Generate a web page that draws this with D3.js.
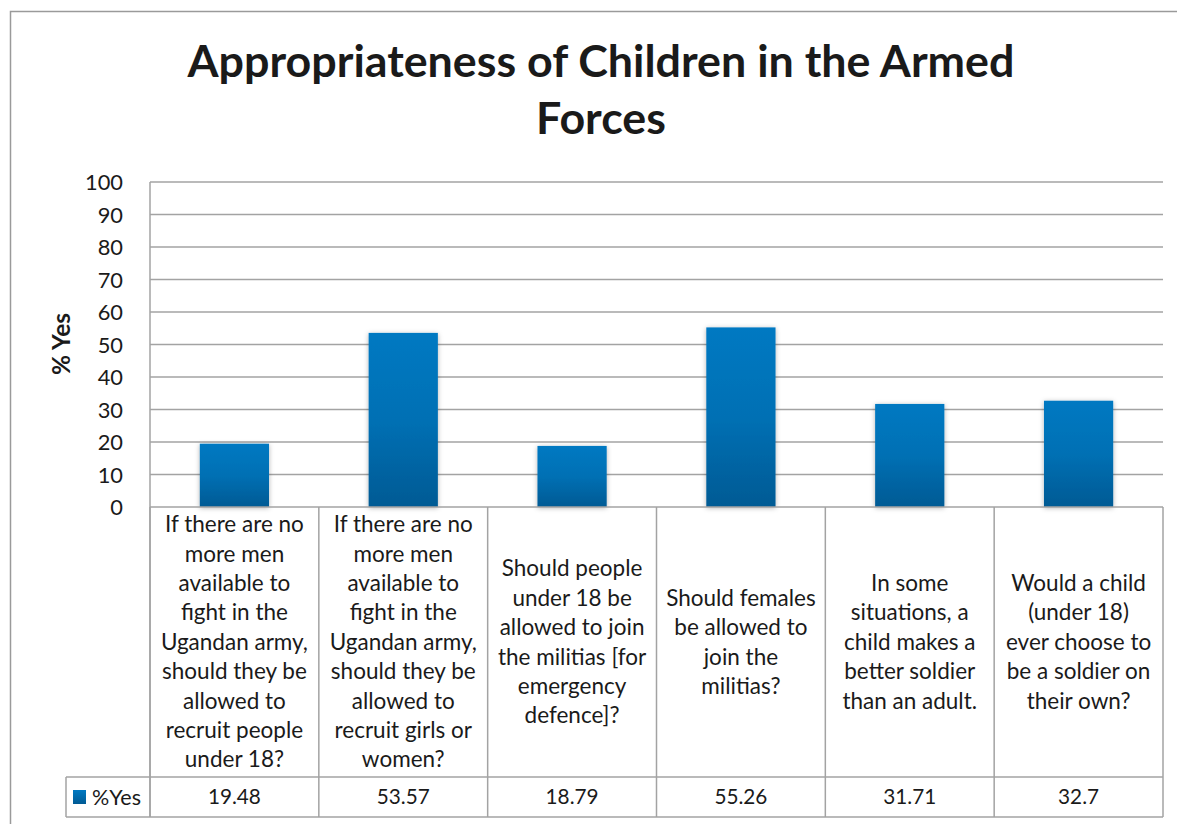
<!DOCTYPE html>
<html><head><meta charset="utf-8">
<script src="https://cdn.jsdelivr.net/npm/d3@7"></script>
<style>html,body{margin:0;padding:0;background:#fff;}svg{display:block;}</style>
</head><body>
<svg id="chart" width="1177" height="824"></svg>
<script>
const titleLines = ["Appropriateness of Children in the Armed", "Forces"];
const yAxisTitle = "% Yes";
const seriesName = "%Yes";
const categoryLines = [
  ["If there are no","more men","available to","fight in the","Ugandan army,","should they be","allowed to","recruit people","under 18?"],
  ["If there are no","more men","available to","fight in the","Ugandan army,","should they be","allowed to","recruit girls or","women?"],
  ["Should people","under 18 be","allowed to join","the militias [for","emergency","defence]?"],
  ["Should females","be allowed to","join the","militias?"],
  ["In some","situations, a","child makes a","better soldier","than an adult."],
  ["Would a child","(under 18)","ever choose to","be a soldier on","their own?"]
];
const values = [19.48, 53.57, 18.79, 55.26, 31.71, 32.7];
const valueLabels = ["19.48","53.57","18.79","55.26","31.71","32.7"];
const yTicks = [0,10,20,30,40,50,60,70,80,90,100];

const FONT = "Lato, 'Open Sans', sans-serif";
const svg = d3.select("#chart");
const L = 150, R = 1163, T = 182, B = 507;
const rowTop = 777, rowBot = 817, legendLeft = 66;
const gridCol = "#a3a3a3";

// outer frame
svg.append("rect").attr("x",10.5).attr("y",11.5).attr("width",1250).attr("height",900)
  .attr("fill","#fff").attr("stroke","#9a9a9a").attr("stroke-width",1.5);

const defs = svg.append("defs");
const grad = defs.append("linearGradient").attr("id","barGrad").attr("x1",0).attr("y1",0).attr("x2",0).attr("y2",1);
grad.append("stop").attr("offset","0%").attr("stop-color","#0079c2");
grad.append("stop").attr("offset","50%").attr("stop-color","#0070b4");
grad.append("stop").attr("offset","100%").attr("stop-color","#005a94");
const lg = defs.append("linearGradient").attr("id","legGrad").attr("x1",0).attr("y1",0).attr("x2",0).attr("y2",1);
lg.append("stop").attr("offset","0%").attr("stop-color","#0079c2");
lg.append("stop").attr("offset","100%").attr("stop-color","#005a94");
const f = defs.append("filter").attr("id","shadow").attr("x","-20%").attr("y","-20%").attr("width","140%").attr("height","140%");
f.append("feDropShadow").attr("dx",0).attr("dy",1).attr("stdDeviation",2.5).attr("flood-color","#000").attr("flood-opacity",0.3);

// size helper: font size so that `str` spans `target` px
function fitSize(str, target, weight){
  const tmp = svg.append("text").attr("font-family",FONT).attr("font-size",20)
    .attr("font-weight",weight||"normal").text(str);
  const w = tmp.node().getComputedTextLength();
  tmp.remove();
  return +(20*target/w).toFixed(2);
}

// title
const fsT = fitSize(titleLines[0], 827, "bold");
svg.selectAll(".title").data(titleLines).join("text").attr("class","title")
  .attr("x",601).attr("y",(d,i)=>77+i*57).attr("text-anchor","middle")
  .attr("font-family",FONT).attr("font-weight","bold").attr("font-size",fsT).attr("fill","#1a1a1a").text(d=>d);

// scales
const x = d3.scaleBand().domain(d3.range(values.length)).range([L,R]).padding(0);
const y = d3.scaleLinear().domain([0,100]).range([B,T]);

// gridlines
svg.append("g").selectAll("line").data(yTicks.filter(d=>d>0)).join("line")
  .attr("x1",L).attr("x2",R).attr("y1",d=>y(d)).attr("y2",d=>y(d))
  .attr("stroke",gridCol).attr("stroke-width",1.5);
svg.append("line").attr("x1",L).attr("x2",L).attr("y1",T).attr("y2",rowBot).attr("stroke",gridCol).attr("stroke-width",1.5);

// y axis labels
const fsTick = fitSize("100", 38);
const yAxis = d3.axisLeft(y).tickValues(yTicks).tickSize(0).tickPadding(0);
const ga = svg.append("g").attr("transform",`translate(123,0)`).call(yAxis);
ga.select(".domain").remove();
ga.selectAll("text").attr("font-family",FONT).attr("font-size",fsTick).attr("fill","#1a1a1a").attr("dy","0.36em");

const fsAx = fitSize(yAxisTitle, 62, "bold");
svg.append("text").attr("transform","translate(70,344) rotate(-90)").attr("text-anchor","middle")
  .attr("font-family",FONT).attr("font-weight","bold").attr("font-size",fsAx).attr("fill","#1a1a1a").text(yAxisTitle);

// bars
const bw = x.bandwidth()*0.41;
svg.append("g").selectAll("rect").data(values).join("rect")
  .attr("x",(d,i)=>x(i)+(x.bandwidth()-bw)/2).attr("width",bw)
  .attr("y",d=>y(d)).attr("height",d=>B-y(d))
  .attr("fill","url(#barGrad)").attr("filter","url(#shadow)");

// table lines
const tg = svg.append("g").attr("stroke",gridCol).attr("stroke-width",1.5);
tg.append("line").attr("x1",L).attr("x2",R).attr("y1",B).attr("y2",B);
tg.append("line").attr("x1",legendLeft).attr("x2",R).attr("y1",rowTop).attr("y2",rowTop);
tg.append("line").attr("x1",legendLeft).attr("x2",R).attr("y1",rowBot).attr("y2",rowBot);
tg.append("line").attr("x1",legendLeft).attr("x2",legendLeft).attr("y1",rowTop).attr("y2",rowBot);
tg.selectAll(".v").data(d3.range(values.length+1)).join("line").attr("class","v")
  .attr("x1",i=>i<values.length?x(i):R).attr("x2",i=>i<values.length?x(i):R)
  .attr("y1",B).attr("y2",rowBot);

// category labels
const fsCat = fitSize("Ugandan army,", 147);
const lineH = 29.4;
const cy = (B+rowTop)/2;
categoryLines.forEach((lines,i)=>{
  const cx = x(i)+x.bandwidth()/2;
  const start = cy - (lines.length-1)*lineH/2;
  const tx = svg.append("text").attr("text-anchor","middle").attr("font-family",FONT)
    .attr("font-size",fsCat).attr("fill","#1a1a1a");
  lines.forEach((ln,j)=>{
    tx.append("tspan").attr("x",cx).attr("y",start+j*lineH).attr("dy","0.35em").text(ln);
  });
});

// values row
const fsVal = fitSize("19.48", 53);
svg.append("g").selectAll("text").data(valueLabels).join("text")
  .attr("x",(d,i)=>x(i)+x.bandwidth()/2).attr("y",(rowTop+rowBot)/2).attr("dy","0.36em")
  .attr("text-anchor","middle").attr("font-family",FONT).attr("font-size",fsVal).attr("fill","#1a1a1a")
  .text(d=>d);

// legend
svg.append("rect").attr("x",73).attr("y",790).attr("width",13).attr("height",14).attr("fill","url(#legGrad)");
svg.append("text").attr("x",92).attr("y",(rowTop+rowBot)/2).attr("dy","0.36em")
  .attr("font-family",FONT).attr("font-size",fitSize(seriesName, 49)).attr("fill","#1a1a1a").text(seriesName);
</script>
</body></html>
